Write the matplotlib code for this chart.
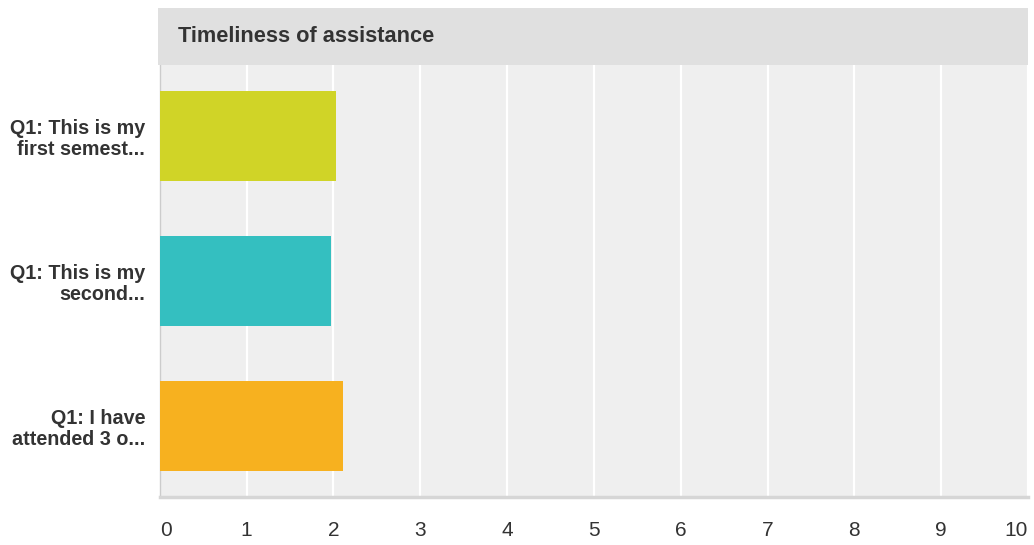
import matplotlib.pyplot as plt
from matplotlib.patches import Rectangle

# data
categories = ["Q1: This is my\nfirst semest...",
              "Q1: This is my\nsecond...",
              "Q1: I have\nattended 3 o..."]
values = [2.03, 1.97, 2.11]
bar_colors = ["#d0d427", "#34bfc0", "#f7b11f"]
ticks = list(range(0, 11))
title = "Timeliness of assistance"

plt.rcParams['font.family'] = ['Liberation Sans', 'DejaVu Sans']

W, H = 1034, 545
fig = plt.figure(figsize=(W / 100, H / 100), dpi=100)

# plot area in pixels
left, right, top, bottom = 159.7, 1028, 65, 497
ax = fig.add_axes([left / W, (H - bottom) / H, (right - left) / W, (bottom - top) / H])
ax.set_facecolor("#efefef")

# header band
fig.patches.append(Rectangle((158 / W, (H - 65) / H), (right - 158) / W, 57 / H,
                             transform=fig.transFigure, facecolor="#e0e0e0",
                             edgecolor="none", zorder=0))
fig.text(178 / W, (H - 34) / H, title, fontsize=15.7, fontweight="bold",
         color="#333333", va="center_baseline", ha="left")

y = list(range(len(categories)))
ax.barh(y, values, height=0.625, color=bar_colors, zorder=3)

ax.set_xlim(0, 10)
ax.set_ylim(2.49, -0.49)
ax.set_xticks(ticks)
labels = ax.set_xticklabels([str(t) for t in ticks], fontsize=15, color="#333333")
labels[0].set_ha("left")
labels[-1].set_ha("right")
ax.set_yticks(y)
ax.set_yticklabels(categories, fontsize=14.2, fontweight="bold", color="#333333",
                   linespacing=1.15)
ax.tick_params(axis="x", length=0, pad=17.5)
ax.tick_params(axis="y", length=0, pad=10.5)

ax.grid(axis="x", color="white", linewidth=1.6, zorder=1)
ax.set_axisbelow(True)

for s in ["top", "right"]:
    ax.spines[s].set_visible(False)
ax.spines["left"].set_color("#cccccc")
ax.spines["left"].set_linewidth(1)
ax.spines["bottom"].set_color("#d6d6d6")
ax.spines["bottom"].set_linewidth(2.5)

fig.savefig("out.png", dpi=100)
